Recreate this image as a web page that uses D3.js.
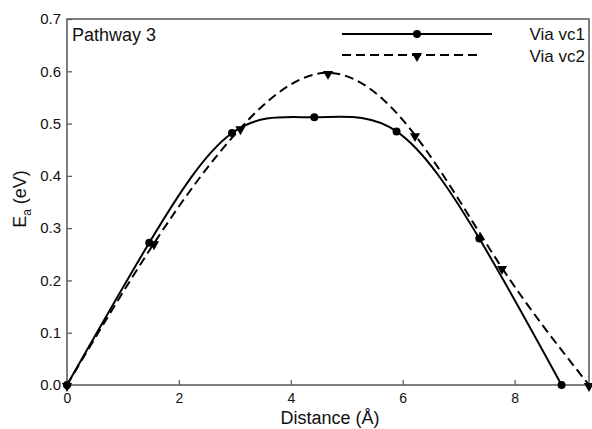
<!DOCTYPE html>
<html>
<head>
<meta charset="utf-8">
<script src="https://cdn.jsdelivr.net/npm/d3@7"></script>
<style>
  body { margin: 0; background: #fff; }
  text { font-family: Arial, "Liberation Sans", sans-serif; fill: #111; }
</style>
</head>
<body>
<script>
// Activation energy along pathway 3

const w = 592;
const h = 429;
const margin = { top: 19, right: 3, bottom: 44, left: 67 };

// data
const vc1X = [0, 1.47, 2.95, 4.42, 5.89, 7.37, 8.84];
const vc1Y = [0, 0.272, 0.482, 0.512, 0.485, 0.280, 0];
const vc2X = [0, 1.555, 3.10, 4.665, 6.22, 7.775, 9.33];
const vc2Y = [0, 0.271, 0.491, 0.597, 0.478, 0.224, 0];
const xTicks = [0, 2, 4, 6, 8];
const yTicks = [0.0, 0.1, 0.2, 0.3, 0.4, 0.5, 0.6, 0.7];
const seriesNames = ["Via vc1", "Via vc2"];

const xScale = d3.scaleLinear()
    .domain([0, 9.33])
    .range([margin.left, w - margin.right]);

const yScale = d3.scaleLinear()
    .domain([0, 0.7])
    .range([h - margin.bottom, margin.top]);

const svg = d3.select("body")
    .append("svg")
    .attr("width", w)
    .attr("height", h);

// frame
svg.append("rect")
    .attr("x", margin.left)
    .attr("y", margin.top)
    .attr("width", w - margin.left - margin.right)
    .attr("height", h - margin.top - margin.bottom)
    .attr("fill", "none")
    .attr("stroke", "#555")
    .attr("stroke-width", 1.5);

// axes with inward ticks
const bottomAxis = d3.axisBottom(xScale)
    .tickValues(xTicks)
    .tickSize(-5)
    .tickPadding(8)
    .tickFormat(d3.format("d"));

const leftAxis = d3.axisLeft(yScale)
    .tickValues(yTicks)
    .tickSize(-5)
    .tickPadding(6)
    .tickFormat(d3.format(".1f"));

const gx = svg.append("g")
    .attr("transform", "translate(0," + (h - margin.bottom) + ")")
    .call(bottomAxis);

const gy = svg.append("g")
    .attr("transform", "translate(" + margin.left + ",0)")
    .call(leftAxis);

[gx, gy].forEach(g => {
    g.select(".domain").remove();
    g.selectAll(".tick line").attr("stroke", "#555").attr("stroke-width", 1.2);
    g.selectAll(".tick text")
        .style("font-size", "15px")
        .style("font-family", "Arial, 'Liberation Sans', sans-serif")
        .attr("fill", "#222");
});
gx.selectAll(".tick text").style("font-size", "14px");

// curves
const line = d3.line()
    .x(d => xScale(d[0]))
    .y(d => yScale(d[1]))
    .curve(d3.curveNatural);

const vc1 = vc1X.map((x, i) => [x, vc1Y[i]]);
const vc2 = vc2X.map((x, i) => [x, vc2Y[i]]);

svg.append("path")
    .datum(vc2)
    .attr("d", line)
    .attr("fill", "none")
    .attr("stroke", "#000")
    .attr("stroke-width", 2)
    .attr("stroke-dasharray", "9,5");

svg.append("path")
    .datum(vc1)
    .attr("d", line)
    .attr("fill", "none")
    .attr("stroke", "#000")
    .attr("stroke-width", 2);

// markers
const tri = d3.symbol().type(d3.symbolTriangle).size(45);

svg.selectAll(".m2")
    .data(vc2)
    .enter()
    .append("path")
    .attr("d", tri)
    .attr("transform", d => "translate(" + xScale(d[0]) + "," + (yScale(d[1]) + 1) + ") rotate(180)")
    .attr("fill", "#000");

svg.selectAll(".m1")
    .data(vc1)
    .enter()
    .append("circle")
    .attr("cx", d => xScale(d[0]))
    .attr("cy", d => yScale(d[1]))
    .attr("r", 4)
    .attr("fill", "#000");

// legend
const legend = svg.append("g");
legend.append("line")
    .attr("x1", 342).attr("x2", 492)
    .attr("y1", 34).attr("y2", 34)
    .attr("stroke", "#000").attr("stroke-width", 2);
legend.append("circle")
    .attr("cx", 417).attr("cy", 34).attr("r", 4).attr("fill", "#000");
legend.append("line")
    .attr("x1", 342).attr("x2", 482)
    .attr("y1", 55).attr("y2", 55)
    .attr("stroke", "#000").attr("stroke-width", 2)
    .attr("stroke-dasharray", "9,5");
legend.append("path")
    .attr("d", tri)
    .attr("transform", "translate(417,56) rotate(180)")
    .attr("fill", "#000");

legend.selectAll(".lt")
    .data(seriesNames)
    .enter()
    .append("text")
    .attr("x", 585)
    .attr("y", (d, i) => 40 + i * 22)
    .style("text-anchor", "end")
    .style("font-size", "17px")
    .text(d => d);

// panel label
svg.append("text")
    .attr("x", 72)
    .attr("y", 41)
    .style("font-size", "18px")
    .text("Pathway 3");

// X - axis title
svg.append("text")
    .attr("x", 330)
    .attr("y", 424)
    .style("text-anchor", "middle")
    .style("font-size", "18px")
    .text("Distance (Å)");

// Y - axis title
const yt = svg.append("text")
    .attr("transform", "translate(26," + 199 + ") rotate(-90)")
    .style("text-anchor", "middle")
    .style("font-size", "18px");
yt.append("tspan").text("E");
yt.append("tspan").attr("dy", 5).style("font-size", "12px").text("a");
yt.append("tspan").attr("dy", -5).text(" (eV)");
</script>
</body>
</html>
